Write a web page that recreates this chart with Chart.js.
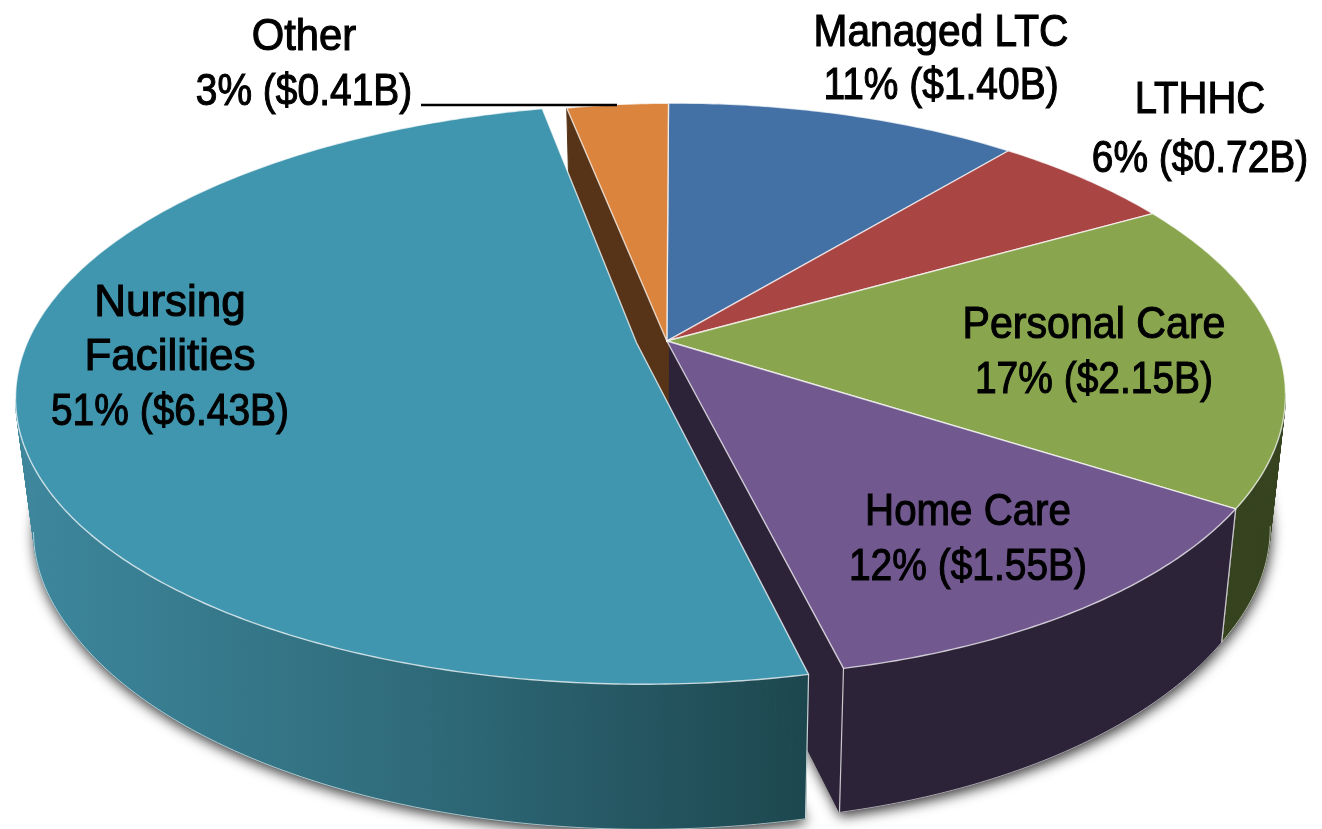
<!DOCTYPE html>
<html><head><meta charset="utf-8">
<style>html,body{margin:0;padding:0;background:#fff}canvas{display:block}</style>
<script src="https://cdn.jsdelivr.net/npm/chart.js@4/dist/chart.umd.min.js"></script>
</head><body><canvas id="c" width="1322" height="829"></canvas>
<script>
const categories = ['Managed LTC','LTHHC','Personal Care','Home Care','Nursing\nFacilities','Other'];
const percents = ['11%','6%','17%','12%','51%','3%'];
const billions = [1.40,0.72,2.15,1.55,6.43,0.41];
const topColors = ['#4371a5','#a94543','#89a54e','#71588f','#4096ae','#db843d'];
const wallColors = ['#2a4463','#652a28','#36431f','#2d2338','#1d474f','#573417'];
const exploded = [0,0,0,0,1,0];

// camera: [clockwise degrees from top | null for hub, screen x, screen y, weight]
const mainCamera = [[null,666,342,6],[0,666,103,4],[39.8,1010,153,1],[60.3,1153,215,1],[121.4,1237,504,1],[165.5,845,668,1],[348.3,569,107,4]];
const explodedCamera = [[null,636,343,6],[165.5,809,673,3],[180.1,617,686,1],[204,320,645,1],[220.6,160,583,1],[238,55,500,1],[258.7,17,397,4],[290.4,100,250,1],[306.7,200,192,1],[332.6,400,128,1],[348.3,543,109,3]];

function fit(anchors){
  const N=Array.from({length:8},()=>Array(9).fill(0));
  const add=(r,t,w)=>{for(let i=0;i<8;i++){for(let j=0;j<8;j++)N[i][j]+=w*r[i]*r[j];N[i][8]+=w*r[i]*t;}};
  anchors.forEach(([deg,x,y,w])=>{
    const hub=deg===null,t=hub?0:deg*Math.PI/180,u=hub?0:Math.sin(t),v=hub?0:-Math.cos(t);
    add([u,v,1,0,0,0,-u*x,-v*x],x,w);add([0,0,0,u,v,1,-u*y,-v*y],y,w);
  });
  for(let i=0;i<8;i++){
    let p=i;for(let r=i+1;r<8;r++)if(Math.abs(N[r][i])>Math.abs(N[p][i]))p=r;
    [N[i],N[p]]=[N[p],N[i]];
    for(let r=0;r<8;r++)if(r!==i){const f=N[r][i]/N[i][i];for(let c=i;c<9;c++)N[r][c]-=f*N[i][c];}
  }
  const m=N.map((r,i)=>r[8]/r[i]);
  return (u,v)=>{const w=m[6]*u+m[7]*v+1;return [(m[0]*u+m[1]*v+m[2])/w,(m[3]*u+m[4]*v+m[5])/w];};
}
const mainH=fit(mainCamera), explodedH=fit(explodedCamera);
function depth(y){return y<=500?133:133+(y-500)*0.0655;}
function base(p){const d=depth(p[1]);return [p[0]+(702-p[0])*0.0262*d/133,p[1]+d];}

function slice(arc,i){
  const H=exploded[i]?explodedH:mainH, pts=[];
  const a0=arc.startAngle,a1=arc.endAngle,n=Math.max(8,Math.ceil((a1-a0)*90));
  for(let k=0;k<=n;k++){const a=a0+(a1-a0)*k/n;pts.push(H(Math.cos(a),Math.sin(a)));}
  const am=(a0+a1)/2;
  return {hub:H(0,0),pts,mid:H(Math.cos(am),Math.sin(am)),i};
}
function poly(ctx,list){ctx.beginPath();list.forEach((p,k)=>k?ctx.lineTo(p[0],p[1]):ctx.moveTo(p[0],p[1]));ctx.closePath();}
function wallFill(ctx,s){
  if(s.i!==4)return wallColors[s.i];
  const g=ctx.createLinearGradient(33,0,805,0);
  g.addColorStop(0,'#3d869c');g.addColorStop(0.5,'#2f6b7a');g.addColorStop(1,wallColors[4]);
  return g;
}
function drawShadow(ctx,s){
  ctx.save();ctx.shadowColor='rgba(0,0,0,0.8)';ctx.shadowBlur=13;ctx.shadowOffsetX=1;ctx.shadowOffsetY=4;
  ctx.fillStyle='#555';poly(ctx,[base(s.hub),...s.pts.map(base)]);ctx.fill();ctx.restore();
}
function drawWalls(ctx,s){
  const fill=wallFill(ctx,s);ctx.fillStyle=fill;ctx.strokeStyle=fill;ctx.lineWidth=1;
  const radial=(p)=>{
    const ex=p[0]-s.hub[0],ey=p[1]-s.hub[1],cx=s.mid[0]-s.hub[0],cy=s.mid[1]-s.hub[1];
    if(ex*cy-ey*cx>0===ex>0)return;
    poly(ctx,[s.hub,p,base(p),base(s.hub)]);ctx.fill();ctx.stroke();
  };
  radial(s.pts[0]);radial(s.pts[s.pts.length-1]);
  const front=[];
  for(let k=0;k<s.pts.length-1;k++){
    const a=s.pts[k],b=s.pts[k+1];
    if(b[0]>=a[0]&&a[1]<393)continue;
    if(b[0]>=a[0]&&a[0]<300)continue;
    front.push([a,b]);
    poly(ctx,[a,b,base(b),base(a)]);ctx.fill();ctx.stroke();
  }
  ctx.strokeStyle='rgba(255,255,255,0.6)';ctx.lineWidth=1;
  front.forEach(([a,b])=>{const p=base(a),q=base(b);ctx.beginPath();ctx.moveTo(p[0],p[1]);ctx.lineTo(q[0],q[1]);ctx.stroke();});
  ctx.strokeStyle='rgba(255,255,255,0.75)';ctx.lineWidth=1.2;
  [s.pts[0],s.pts[s.pts.length-1]].forEach(p=>{
    if(p[1]<400)return;
    const q=base(p);ctx.beginPath();ctx.moveTo(p[0],p[1]);ctx.lineTo(q[0],q[1]);ctx.stroke();
  });
}
function drawTop(ctx,s){
  poly(ctx,[s.hub,...s.pts]);ctx.fillStyle=topColors[s.i];ctx.fill();
  ctx.strokeStyle='rgba(255,255,255,0.72)';ctx.lineWidth=1.4;ctx.lineJoin='round';ctx.stroke();
}
const labelPlace = [[941,[46,99],[.925,.885]],[1200,[113,172],[.91,.885]],[1094,[338,393],[.935,.885]],[968,[525,580],[.915,.885]],[170,[316,370,425],[1,1,.885]],[304,[50,105],[.95,.885]]];
function drawLabels(ctx){
  ctx.save();ctx.fillStyle='#000';ctx.strokeStyle='#000';ctx.lineWidth=1.1;ctx.textAlign='center';ctx.textBaseline='alphabetic';
  ctx.font='44px "Liberation Sans"';
  categories.forEach((c,i)=>{
    const lines=[...c.split('\n'),percents[i]+' ($'+billions[i].toFixed(2)+'B)'];
    lines.forEach((t,l)=>{
      ctx.save();ctx.translate(labelPlace[i][0],labelPlace[i][1][l]);ctx.scale(labelPlace[i][2][l],1);
      ctx.fillText(t,0,0);ctx.strokeText(t,0,0);ctx.restore();
    });
  });
  ctx.strokeStyle='#000';ctx.lineWidth=2.6;ctx.beginPath();ctx.moveTo(421,105);ctx.lineTo(617,105);ctx.stroke();
  ctx.restore();
}
const pie3d={id:'pie3d',beforeDatasetsDraw(chart){
  const ctx=chart.ctx,arcs=chart.getDatasetMeta(0).data;
  const ss=arcs.map(slice),rest=ss.filter(s=>!exploded[s.i]),front=ss.filter(s=>exploded[s.i]);
  ctx.save();
  rest.forEach(s=>drawShadow(ctx,s));front.forEach(s=>drawShadow(ctx,s));
  rest.forEach(s=>drawWalls(ctx,s));rest.forEach(s=>drawTop(ctx,s));
  front.forEach(s=>drawWalls(ctx,s));front.forEach(s=>drawTop(ctx,s));
  ctx.restore();
  drawLabels(ctx);
  return false;
}};
new Chart(document.getElementById('c'),{
  type:'pie',
  data:{labels:categories.map(c=>c.replace('\n',' ')),datasets:[{data:billions,backgroundColor:topColors}]},
  options:{responsive:false,animation:false,events:[],plugins:{legend:{display:false},tooltip:{enabled:false}}},
  plugins:[pie3d]
});
</script></body></html>
